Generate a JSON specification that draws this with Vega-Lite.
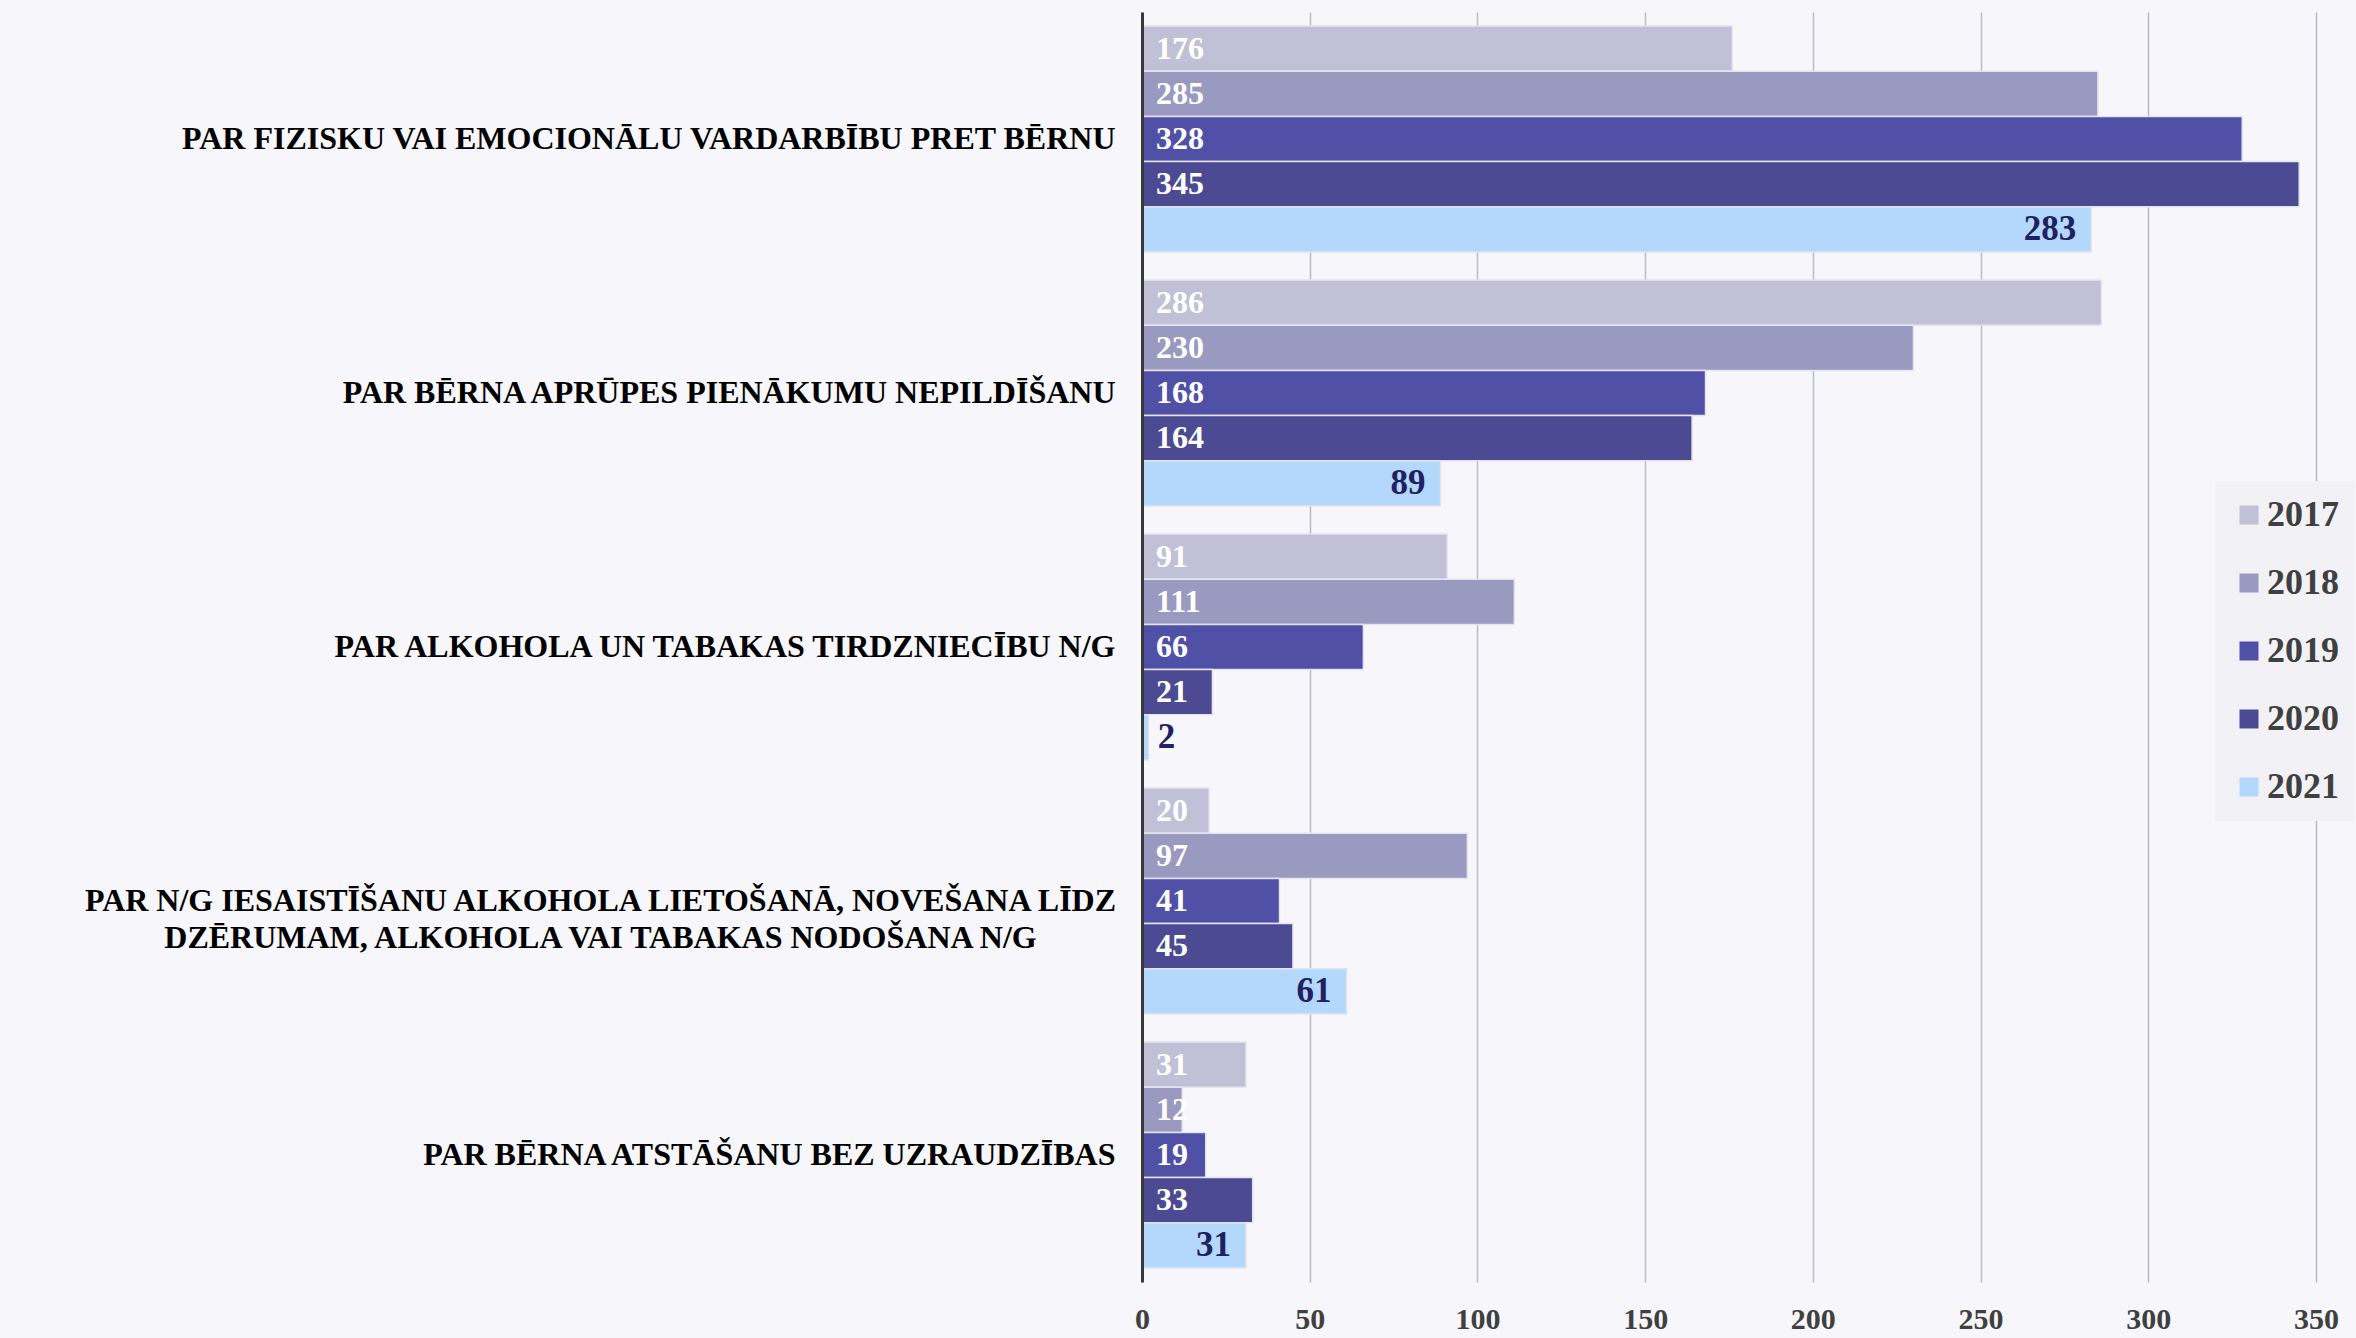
{
  "$schema": "https://vega.github.io/schema/vega-lite/v6.json",
  "width": 1174,
  "height": 1270,
  "autosize": {"type": "none"},
  "padding": {"left": 1142, "top": 12, "right": 40, "bottom": 56},
  "background": "#f7f7fb",
  "config": {"view": {"stroke": null}, "font": "Liberation Serif"},
  "data": {
    "values": [
      {"category": "PAR FIZISKU VAI EMOCIONĀLU VARDARBĪBU PRET BĒRNU", "year": "2017", "value": 176},
      {"category": "PAR FIZISKU VAI EMOCIONĀLU VARDARBĪBU PRET BĒRNU", "year": "2018", "value": 285},
      {"category": "PAR FIZISKU VAI EMOCIONĀLU VARDARBĪBU PRET BĒRNU", "year": "2019", "value": 328},
      {"category": "PAR FIZISKU VAI EMOCIONĀLU VARDARBĪBU PRET BĒRNU", "year": "2020", "value": 345},
      {"category": "PAR FIZISKU VAI EMOCIONĀLU VARDARBĪBU PRET BĒRNU", "year": "2021", "value": 283},
      {"category": "PAR BĒRNA APRŪPES PIENĀKUMU NEPILDĪŠANU", "year": "2017", "value": 286},
      {"category": "PAR BĒRNA APRŪPES PIENĀKUMU NEPILDĪŠANU", "year": "2018", "value": 230},
      {"category": "PAR BĒRNA APRŪPES PIENĀKUMU NEPILDĪŠANU", "year": "2019", "value": 168},
      {"category": "PAR BĒRNA APRŪPES PIENĀKUMU NEPILDĪŠANU", "year": "2020", "value": 164},
      {"category": "PAR BĒRNA APRŪPES PIENĀKUMU NEPILDĪŠANU", "year": "2021", "value": 89},
      {"category": "PAR ALKOHOLA UN TABAKAS TIRDZNIECĪBU N/G", "year": "2017", "value": 91},
      {"category": "PAR ALKOHOLA UN TABAKAS TIRDZNIECĪBU N/G", "year": "2018", "value": 111},
      {"category": "PAR ALKOHOLA UN TABAKAS TIRDZNIECĪBU N/G", "year": "2019", "value": 66},
      {"category": "PAR ALKOHOLA UN TABAKAS TIRDZNIECĪBU N/G", "year": "2020", "value": 21},
      {"category": "PAR ALKOHOLA UN TABAKAS TIRDZNIECĪBU N/G", "year": "2021", "value": 2},
      {"category": "PAR N/G IESAISTĪŠANU ALKOHOLA LIETOŠANĀ, NOVEŠANA LĪDZ DZĒRUMAM, ALKOHOLA VAI TABAKAS NODOŠANA N/G", "year": "2017", "value": 20},
      {"category": "PAR N/G IESAISTĪŠANU ALKOHOLA LIETOŠANĀ, NOVEŠANA LĪDZ DZĒRUMAM, ALKOHOLA VAI TABAKAS NODOŠANA N/G", "year": "2018", "value": 97},
      {"category": "PAR N/G IESAISTĪŠANU ALKOHOLA LIETOŠANĀ, NOVEŠANA LĪDZ DZĒRUMAM, ALKOHOLA VAI TABAKAS NODOŠANA N/G", "year": "2019", "value": 41},
      {"category": "PAR N/G IESAISTĪŠANU ALKOHOLA LIETOŠANĀ, NOVEŠANA LĪDZ DZĒRUMAM, ALKOHOLA VAI TABAKAS NODOŠANA N/G", "year": "2020", "value": 45},
      {"category": "PAR N/G IESAISTĪŠANU ALKOHOLA LIETOŠANĀ, NOVEŠANA LĪDZ DZĒRUMAM, ALKOHOLA VAI TABAKAS NODOŠANA N/G", "year": "2021", "value": 61},
      {"category": "PAR BĒRNA ATSTĀŠANU BEZ UZRAUDZĪBAS", "year": "2017", "value": 31},
      {"category": "PAR BĒRNA ATSTĀŠANU BEZ UZRAUDZĪBAS", "year": "2018", "value": 12},
      {"category": "PAR BĒRNA ATSTĀŠANU BEZ UZRAUDZĪBAS", "year": "2019", "value": 19},
      {"category": "PAR BĒRNA ATSTĀŠANU BEZ UZRAUDZĪBAS", "year": "2020", "value": 33},
      {"category": "PAR BĒRNA ATSTĀŠANU BEZ UZRAUDZĪBAS", "year": "2021", "value": 31}
    ]
  },
  "encoding": {
    "y": {
      "field": "category", "type": "nominal", "sort": null,
      "scale": {"paddingInner": 0.11, "paddingOuter": 0.055},
      "axis": {
        "title": null, "domain": true, "domainColor": "#3a3a3a", "domainWidth": 3, "zindex": 1,
        "ticks": false, "labelFont": "Liberation Serif", "labelFontWeight": "bold",
        "labelFontSize": 32, "labelColor": "#000000", "labelLimit": 3000, "labelLineHeight": 37,
        "labelExpr": "indexof(datum.label, 'IESAIST') >= 0 ? ['PAR N/G IESAISTĪŠANU ALKOHOLA LIETOŠANĀ, NOVEŠANA LĪDZ', 'DZĒRUMAM, ALKOHOLA VAI TABAKAS NODOŠANA N/G'] : datum.label",
        "labelAlign": {"condition": {"test": "indexof(datum.value, 'IESAIST') >= 0", "value": "center"}, "value": "right"},
        "labelPadding": {"condition": {"test": "indexof(datum.value, 'IESAIST') >= 0", "value": 542}, "value": 27}
      }
    },
    "yOffset": {"field": "year", "type": "nominal", "sort": "ascending", "scale": {"paddingInner": 0, "paddingOuter": 0}},
    "x": {
      "field": "value", "type": "quantitative",
      "scale": {"domain": [0, 350], "nice": false},
      "axis": {
        "title": null, "domain": false, "ticks": false, "grid": true,
        "gridColor": "#b9b9c2", "gridWidth": 1.5, "labelFlush": false,
        "values": [0, 50, 100, 150, 200, 250, 300, 350],
        "labelFont": "Liberation Serif", "labelFontWeight": "bold", "labelFontSize": 30,
        "labelColor": "#404040", "labelPadding": 22
      }
    }
  },
  "layer": [
    {
      "mark": {"type": "bar", "stroke": "#e4e4ef", "strokeWidth": 1.5},
      "encoding": {
        "color": {
          "field": "year", "type": "nominal",
          "scale": {"domain": ["2017", "2018", "2019", "2020", "2021"], "range": ["#c0c1d6", "#9a99c0", "#4f50a6", "#4b4a92", "#b4d8fb"]},
          "legend": {
            "title": null, "orient": "none", "legendX": 1073, "legendY": 469,
            "fillColor": "#f2f2f6", "padding": 16, "symbolType": "square", "symbolSize": 361,
            "symbolStrokeWidth": 0, "labelFont": "Liberation Serif", "labelFontSize": 36,
            "labelFontWeight": "bold", "labelColor": "#404040", "rowPadding": 32, "labelOffset": 0
          }
        }
      }
    },
    {
      "transform": [{"filter": "datum.year != '2021'"}],
      "mark": {"type": "text", "align": "left", "baseline": "middle", "dx": 14, "font": "Liberation Serif", "fontWeight": "bold", "fontSize": 32, "color": "#ffffff"},
      "encoding": {"x": {"datum": 0, "type": "quantitative"}, "text": {"field": "value", "type": "quantitative"}}
    },
    {
      "transform": [{"filter": "datum.year == '2021' && datum.value >= 10"}],
      "mark": {"type": "text", "align": "right", "baseline": "middle", "dx": -15, "font": "Liberation Serif", "fontWeight": "bold", "fontSize": 35, "color": "#1f2163"},
      "encoding": {"text": {"field": "value", "type": "quantitative"}}
    },
    {
      "transform": [{"filter": "datum.year == '2021' && datum.value < 10"}],
      "mark": {"type": "text", "align": "left", "baseline": "middle", "dx": 9, "font": "Liberation Serif", "fontWeight": "bold", "fontSize": 35, "color": "#1f2163"},
      "encoding": {"text": {"field": "value", "type": "quantitative"}}
    }
  ]
}
